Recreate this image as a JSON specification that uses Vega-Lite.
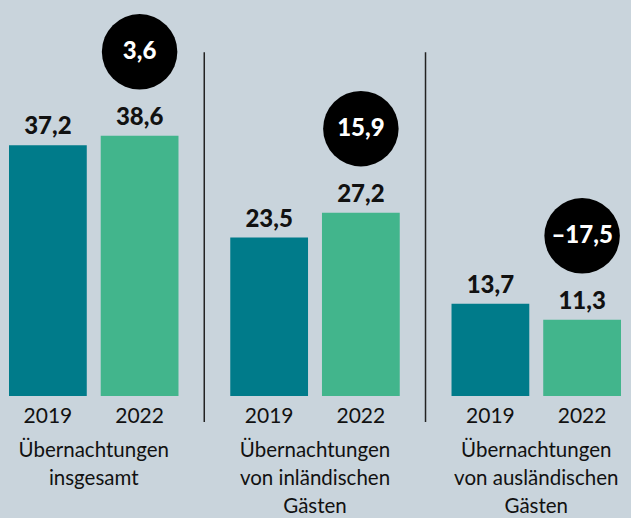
{
  "$schema": "https://vega.github.io/schema/vega-lite/v6.json",
  "width": 612,
  "height": 396,
  "autosize": "none",
  "padding": {"left": 9, "right": 10, "top": 0, "bottom": 122},
  "background": "#c9d4dc",
  "config": {
    "view": {"stroke": null},
    "font": "Lato",
    "locale": {"number": {"decimal": ",", "thousands": ".", "grouping": [3], "currency": ["", " €"], "minus": "–"}}
  },
  "datasets": {
    "bars": [
      {"group": "Übernachtungen\ninsgesamt", "year": "2019", "value": 37.2},
      {"group": "Übernachtungen\ninsgesamt", "year": "2022", "value": 38.6, "change": 3.6},
      {"group": "Übernachtungen\nvon inländischen\nGästen", "year": "2019", "value": 23.5},
      {"group": "Übernachtungen\nvon inländischen\nGästen", "year": "2022", "value": 27.2, "change": 15.9},
      {"group": "Übernachtungen\nvon ausländischen\nGästen", "year": "2019", "value": 13.7},
      {"group": "Übernachtungen\nvon ausländischen\nGästen", "year": "2022", "value": 11.3, "change": -17.5}
    ],
    "groups": [
      {"group": "Übernachtungen\ninsgesamt"},
      {"group": "Übernachtungen\nvon inländischen\nGästen"},
      {"group": "Übernachtungen\nvon ausländischen\nGästen"}
    ]
  },
  "data": {"name": "bars"},
  "layer": [
    {
      "mark": {"type": "bar"},
      "encoding": {
        "x": {"field": "group", "type": "nominal", "sort": null, "axis": null,
              "scale": {"paddingInner": 0.234, "paddingOuter": 0}},
        "xOffset": {"field": "year", "type": "nominal", "scale": {"paddingInner": 0.152, "paddingOuter": 0}},
        "y": {"field": "value", "type": "quantitative", "axis": null, "scale": {"domain": [0, 58.75], "nice": false}},
        "color": {"field": "year", "type": "nominal", "legend": null,
                  "scale": {"domain": ["2019", "2022"], "range": ["#007b8a", "#42b58c"]}}
      }
    },
    {
      "mark": {"type": "text", "baseline": "bottom", "dy": -6, "fontSize": 24, "fontWeight": 900, "color": "#111111"},
      "encoding": {
        "x": {"field": "group", "type": "nominal", "sort": null},
        "xOffset": {"field": "year", "type": "nominal"},
        "y": {"field": "value", "type": "quantitative"},
        "text": {"field": "value", "type": "quantitative", "format": ".1f"}
      }
    },
    {
      "mark": {"type": "text", "baseline": "middle", "dy": 21, "fontSize": 21, "color": "#111111"},
      "encoding": {
        "x": {"field": "group", "type": "nominal", "sort": null},
        "xOffset": {"field": "year", "type": "nominal"},
        "y": {"datum": 0},
        "text": {"field": "year", "type": "nominal"}
      }
    },
    {
      "transform": [{"filter": "isValid(datum.change)"}],
      "mark": {"type": "point", "shape": "circle", "filled": true, "size": 5700, "color": "#000000", "opacity": 1, "yOffset": -84},
      "encoding": {
        "x": {"field": "group", "type": "nominal", "sort": null},
        "xOffset": {"field": "year", "type": "nominal"},
        "y": {"field": "value", "type": "quantitative"}
      }
    },
    {
      "transform": [{"filter": "isValid(datum.change)"}],
      "mark": {"type": "text", "baseline": "middle", "dy": -84, "fontSize": 24, "fontWeight": 900, "color": "#ffffff"},
      "encoding": {
        "x": {"field": "group", "type": "nominal", "sort": null},
        "xOffset": {"field": "year", "type": "nominal"},
        "y": {"field": "value", "type": "quantitative"},
        "text": {"field": "change", "type": "quantitative", "format": ".1f"}
      }
    },
    {
      "data": {"name": "groups"},
      "mark": {"type": "text", "baseline": "top", "dy": 45, "fontSize": 20.5, "lineHeight": 28, "lineBreak": "\n", "color": "#111111"},
      "encoding": {
        "x": {"field": "group", "type": "nominal", "sort": null},
        "y": {"datum": 0},
        "text": {"field": "group", "type": "nominal"}
      }
    },
    {
      "data": {"name": "groups"},
      "transform": [{"filter": "indexof(datum.group, 'insgesamt') < 0"}],
      "mark": {"type": "rule", "color": "#222222", "strokeWidth": 1.5, "xOffset": -26, "y2Offset": 26},
      "encoding": {
        "x": {"field": "group", "type": "nominal", "sort": null, "bandPosition": 0},
        "y": {"datum": 51},
        "y2": {"datum": 0}
      }
    }
  ]
}
